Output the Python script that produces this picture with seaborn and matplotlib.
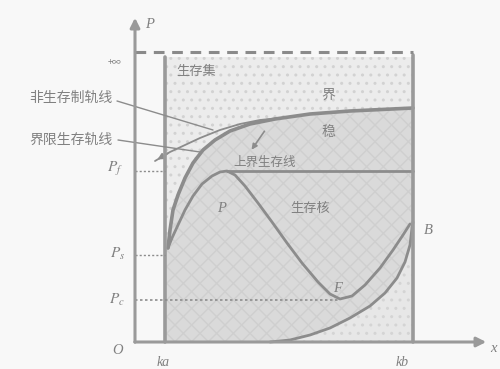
import numpy as np
import pandas as pd
import matplotlib
matplotlib.use("Agg")
import matplotlib.pyplot as plt
import seaborn as sns

# ---- levels and bounds of the state space ----
ka, kb = 30, 278          # constraint interval on x
p_inf = 290               # "+inf" level (dashed)
box_top = 285
P_f, P_s, P_c = 171, 87, 42

# ---- boundary of the viability kernel (limit viable trajectory) ----
bound_x = [33, 35, 38, 43, 50, 58, 68, 80, 95, 115, 140, 175, 215, 278]
bound_y = [94, 112, 132, 147, 164, 179, 192, 202, 211, 218, 223, 228, 231, 234]

# ---- non-viable trajectory leaving the set ----
nonv_x = [145, 125, 105, 85, 65, 50, 35, 20]
nonv_y = [224, 222, 218, 212, 204, 197, 190, 181]

# ---- trajectory through P, F, B ----
traj_x = [33, 37, 43, 50, 58, 67, 77, 85, 92, 100, 110, 123, 137, 152, 167,
          183, 195, 205, 217, 230, 245, 258, 268, 275]
traj_y = [94, 104, 117, 132, 146, 158, 166, 170, 171, 167, 156, 139, 120, 99,
          79, 60, 48, 43, 46, 57, 74, 92, 107, 118]

# ---- lower boundary curve ending at B ----
low_x = [135, 155, 175, 195, 215, 235, 250, 262, 270, 275, 277, 278]
low_y = [0, 2, 7, 14, 24, 36, 49, 64, 80, 97, 114, 120]

# ---- upper viable level line ----
top_line_x = [92, 278]
top_line_y = [P_f, P_f]

sns.set_theme(style="white")
plt.rcParams["font.family"] = ["Noto Sans CJK SC", "DejaVu Sans"]
plt.rcParams["mathtext.fontset"] = "stix"

fig = plt.figure(figsize=(5.0, 3.69), dpi=100)
fig.patch.set_facecolor("#f8f8f8")
ax = fig.add_axes([0, 0, 1, 1])
ax.set_facecolor("#f8f8f8")
ax.set_xlim(-135, 365)
ax.set_ylim(-27, 342)
ax.axis("off")

line_c = "#8c8c8c"
text_c = "#808080"

# constraint set (dotted light fill)
ax.fill([ka, kb, kb, ka], [0, 0, box_top, box_top], facecolor="#ececec",
        edgecolor="#d2d2d2", hatch="..", linewidth=0, zorder=1)
# viability region under the boundary curve
poly_x = [ka] + bound_x + [kb, ka]
poly_y = [bound_y[0]] + bound_y + [0, 0]
ax.fill(poly_x, poly_y, facecolor="#dadada", edgecolor="#cfcfcf",
        hatch="xx", linewidth=0, zorder=2)
# lighter area below the lower curve
ax.fill(low_x + [kb], low_y + [0], facecolor="#e7e7e7", edgecolor="#d4d4d4",
        hatch="..", linewidth=0, zorder=3)

df_b = pd.DataFrame({"x": bound_x, "y": bound_y})
df_n = pd.DataFrame({"x": nonv_x, "y": nonv_y})
df_t = pd.DataFrame({"x": traj_x, "y": traj_y})
df_l = pd.DataFrame({"x": low_x, "y": low_y})
df_h = pd.DataFrame({"x": top_line_x, "y": top_line_y})

for df, lw in [(df_b, 2.6), (df_n, 1.3), (df_t, 2.0), (df_l, 2.0), (df_h, 2.0)]:
    sns.lineplot(data=df, x="x", y="y", sort=False, estimator=None, ax=ax,
                 color=line_c, linewidth=lw, zorder=5)

# arrow at end of non-viable trajectory
ax.annotate("", xy=(nonv_x[-1], nonv_y[-1]), xytext=(nonv_x[-2], nonv_y[-2]),
            arrowprops=dict(arrowstyle="-|>", color=line_c, lw=1.3,
                            mutation_scale=9), zorder=6)
# small arrow near the upper level
ax.annotate("", xy=(115, 190), xytext=(131, 213),
            arrowprops=dict(arrowstyle="-|>", color=line_c, lw=1.2,
                            mutation_scale=8), zorder=6)

# axes with arrows
ax.annotate("", xy=(0, 327), xytext=(0, -3),
            arrowprops=dict(arrowstyle="-|>", color="#9a9a9a", lw=2.2,
                            mutation_scale=14), zorder=7)
ax.annotate("", xy=(354, 0), xytext=(-3, 0),
            arrowprops=dict(arrowstyle="-|>", color="#9a9a9a", lw=2.2,
                            mutation_scale=14), zorder=7)

# constraint box sides and infinity level
ax.plot([ka, ka], [0, box_top], color="#9a9a9a", lw=2.6, zorder=6)
ax.plot([kb, kb], [0, p_inf - 3], color="#9a9a9a", lw=2.6, zorder=6)
ax.plot([0, kb], [p_inf, p_inf], color="#8a8a8a", lw=2.2,
        linestyle=(0, (3.5, 2.5)), zorder=6)

# level guide lines
ax.plot([0, ka], [P_f, P_f], color=line_c, lw=1.0, linestyle=(0, (1.5, 1.5)), zorder=6)
ax.plot([0, ka], [P_s, P_s], color=line_c, lw=1.0, linestyle=(0, (1.5, 1.5)), zorder=6)
ax.plot([0, 205], [P_c, P_c], color=line_c, lw=1.2, linestyle=(0, (1.5, 1.5)), zorder=6)

# leader lines for the trajectory labels
ax.plot([-18, 78], [241, 212], color=line_c, lw=1.0, zorder=6)
ax.plot([-17, 65], [202, 190], color=line_c, lw=1.0, zorder=6)

def label(x, y, s, size=9.5, **kw):
    ax.text(x, y, s, color=text_c, fontsize=size, ha="center", va="center",
            zorder=8, **kw)

def latin(x, y, s, size=10.5):
    label(x, y, s, size, family="Liberation Serif", style="italic")

label(-64, 244, "非生存制轨线", 10)
label(-64, 202, "界限生存轨线", 10)
label(61, 270, "生存集", 9.5)
label(193, 247, "界", 10)
label(193, 210, "稳", 10)
label(130, 180, "上界生存线", 9)
label(175, 134, "生存核", 9.5)
latin(87, 134, "P")
latin(203, 54, "F")
latin(293, 112, "B")
latin(15, 317, "P")
latin(358, -6, "x")
latin(-17, -8, "O")
latin(28, -20, "ka", 10)
latin(267, -20, "kb", 10)
label(-20, 280, "+∞", 6.5)
label(-20, P_f + 2, "$P_f$", 11)
label(-17, P_s + 2, "$P_s$", 11)
label(-18, P_c + 1, "$P_c$", 11)

fig.savefig("out.png", dpi=100, facecolor=fig.get_facecolor())
